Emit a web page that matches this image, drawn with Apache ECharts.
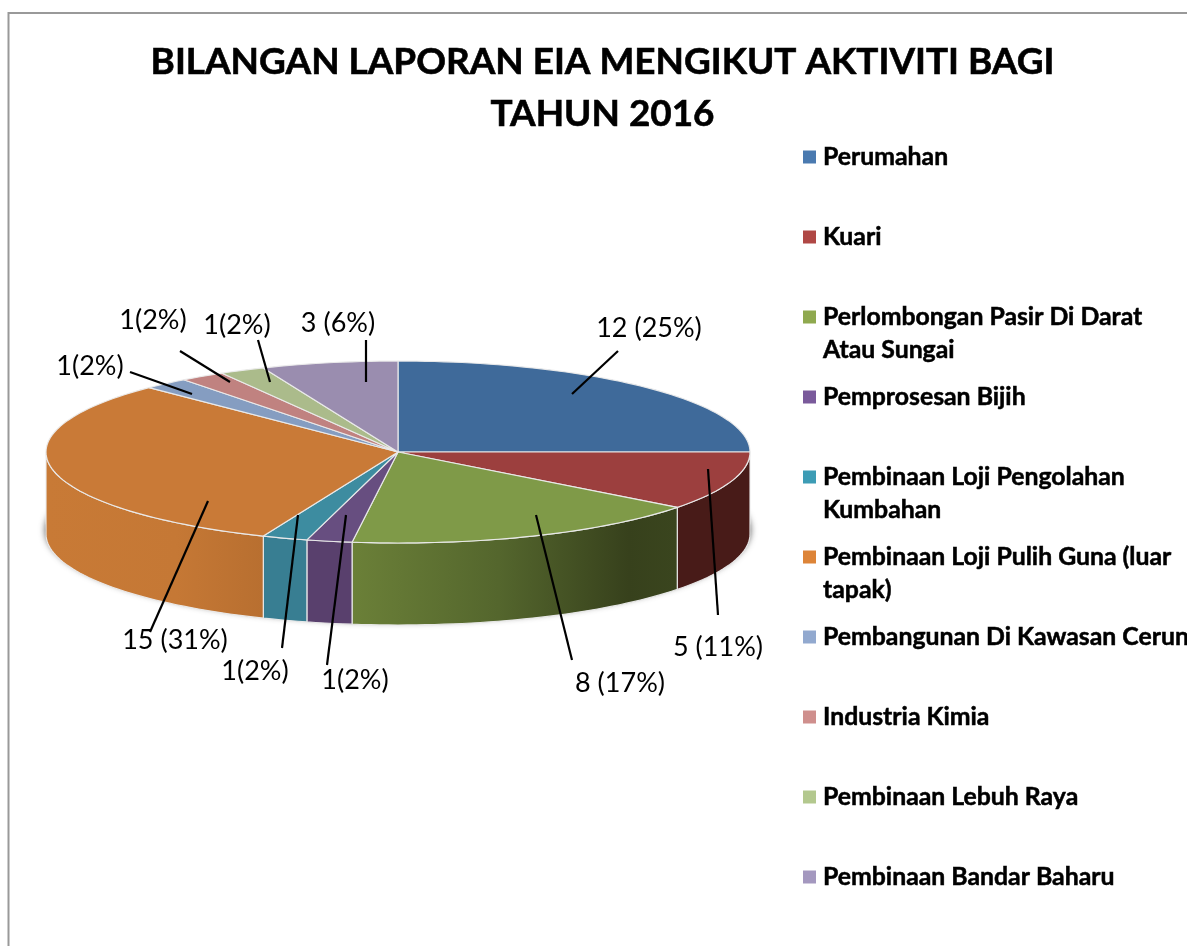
<!DOCTYPE html>
<html>
<head>
<meta charset="utf-8">
<style>html,body{margin:0;padding:0;background:#fff}#c{width:1187px;height:946px}</style>
<script src="https://cdn.jsdelivr.net/npm/echarts@6/dist/echarts.min.js"></script>
</head>
<body>
<div id="c"></div>
<script>
// --- data ---
const chartTitle = 'BILANGAN LAPORAN EIA MENGIKUT AKTIVITI BAGI\nTAHUN 2016';
const categories = ['Perumahan','Kuari','Perlombongan Pasir Di Darat\nAtau Sungai','Pemprosesan Bijih','Pembinaan Loji Pengolahan\nKumbahan','Pembinaan Loji Pulih Guna (luar\ntapak)','Pembangunan Di Kawasan Cerun','Industria Kimia','Pembinaan Lebuh Raya','Pembinaan Bandar Baharu'];
const values = [12,5,8,1,1,15,1,1,1,3];
const sliceLabels = ['12 (25%)','5 (11%)','8 (17%)','1(2%)','1(2%)','15 (31%)','1(2%)','1(2%)','1(2%)','3 (6%)'];

// --- styles ---
const topColors = ['#3f6a9a','#9c3f3e','#7f9a48','#674e80','#3d8ca0','#c97a37','#859dc1','#c08280','#abbb8b','#9a8daf'];
const legendColors = ['#4a7ab0','#b04845','#8fa94f','#7a5a9b','#3d9cb5','#dd8438','#92a9cf','#cf8f8d','#b3c88e','#a498bf'];
const sideStops = {
  1: [[0,'#481b18'],[1,'#481b18']],
  2: [[0,'#6b8038'],[0.45,'#54662d'],[0.85,'#37411c'],[1,'#3a451e']],
  3: [[0,'#59406d'],[1,'#59406d']],
  4: [[0,'#387e92'],[1,'#387e92']],
  5: [[0,'#c87a36'],[0.6,'#c57835'],[1,'#b86f30']]
};
const labelLayout = [
  {p:[649,328],l:[[572,394],[618,351]]},
  {p:[718,647],l:[[708,469],[718,615]]},
  {p:[620,683],l:[[536,515],[572,660]]},
  {p:[355,680],l:[[346,515],[327,665]]},
  {p:[255,671],l:[[298,515],[282,648]]},
  {p:[175,640],l:[[208,501],[150,632]]},
  {p:[90,366],l:[[192,394],[130,372]]},
  {p:[153,320],l:[[230,382],[180,351]]},
  {p:[237,325],l:[[270,382],[258,340]]},
  {p:[338,323],l:[[366,382],[366,340]]}
];
const geo = {cx:398, cy:452, rx:352, ry:91, depth:82};
const total = values.reduce((a,b)=>a+b,0);
const edge = 'rgba(235,235,235,0.95)';
const pt = (deg, dy) => {
  const a = deg*Math.PI/180;
  return [geo.cx+geo.rx*Math.sin(a), geo.cy-geo.ry*Math.cos(a)+(dy||0)];
};
const arc = (a0,a1,dy) => {
  const n = Math.max(2,Math.ceil((a1-a0)/1.5)), out=[];
  for(let i=0;i<=n;i++) out.push(pt(a0+(a1-a0)*i/n,dy));
  return out;
};
function startAngle(i){ let s=0; for(let k=0;k<i;k++) s+=values[k]; return s/total*360; }

function sliceRenderer(i){
  return function(params, api){
    const a0 = startAngle(i), a1 = a0 + api.value(0)/total*360;
    const ch = [];
    const s0 = Math.max(a0,90), s1 = Math.min(a1,270);
    if(s1 > s0){
      const x0 = pt(s0)[0], x1 = pt(s1)[0];
      const lo = Math.min(x0,x1), hi = Math.max(x0,x1);
      const stops = (sideStops[i]||[[0,topColors[i]],[1,topColors[i]]]).map(s=>({offset:s[0],color:s[1]}));
      ch.push({type:'polygon',
        shape:{points:arc(s0,s1,0).concat(arc(s0,s1,geo.depth).reverse())},
        style:{fill:new echarts.graphic.LinearGradient(lo,0,hi,0,stops,true),stroke:edge,lineWidth:1.2,lineJoin:'round'}});
    }
    ch.push({type:'polygon',
      shape:{points:[[geo.cx,geo.cy]].concat(arc(a0,a1,0))},
      style:{fill:topColors[i],stroke:edge,lineWidth:1.2,lineJoin:'round'}});
    const ly = labelLayout[i];
    ch.push({type:'polyline',z2:50,shape:{points:ly.l},style:{stroke:'#000',lineWidth:2.2,fill:null}});
    ch.push({type:'text',z2:50,style:{text:sliceLabels[i],x:ly.p[0],y:ly.p[1],fill:'#000',font:'400 27px Lato',align:'center',verticalAlign:'middle'}});
    return {type:'group',children:ch};
  };
}

const legendTop = i => 157 + 80*i - 16.5;
const chart = echarts.init(document.getElementById('c'),null,{renderer:'canvas'});
chart.setOption({
  animation:false,
  backgroundColor:'#fff',
  title:{text:chartTitle,left:597.5,top:31,textAlign:'center',textStyle:{fontFamily:'Lato',fontWeight:'bold',fontSize:36.9,lineHeight:52,color:'#000',textBorderColor:'#000',textBorderWidth:0.6}},
  legend:categories.map((n,i)=>{
    const two = n.indexOf('\n')>=0;
    return {
      data:[n], left:803, top:legendTop(i), orient:'vertical', padding:0, selectedMode:false,
      itemWidth:13, itemHeight:two?46:13,
      icon: two ? 'path://M0 0H13V13H0Z M0 46L0 46Z' : 'rect',
      textStyle:{fontFamily:'Lato',fontWeight:'bold',fontSize:24.8,lineHeight:33,color:'#000',padding:[0,0,0,2],textBorderColor:'#000',textBorderWidth:0.5}
    };
  }),
  graphic:[{type:'polyline',silent:true,shape:{points:[[8.5,946],[8.5,13],[1187,13]]},style:{stroke:'#999',lineWidth:2,fill:null}}],
  series:[{
    type:'custom',name:'bayang',coordinateSystem:'none',silent:true,z:1,data:[[1]],
    renderItem:()=>({type:'ellipse',shape:{cx:geo.cx,cy:geo.cy+78,rx:geo.rx+1,ry:geo.ry+1},
      style:{fill:'#8a8a8a',shadowBlur:6,shadowColor:'rgba(80,80,80,0.85)'}})
  }].concat(categories.map((n,i)=>({
    type:'custom',name:n,coordinateSystem:'none',z:2,
    itemStyle:{color:legendColors[i]},
    data:[[values[i]]],
    renderItem:sliceRenderer(i)
  })))
});
</script>
</body>
</html>
